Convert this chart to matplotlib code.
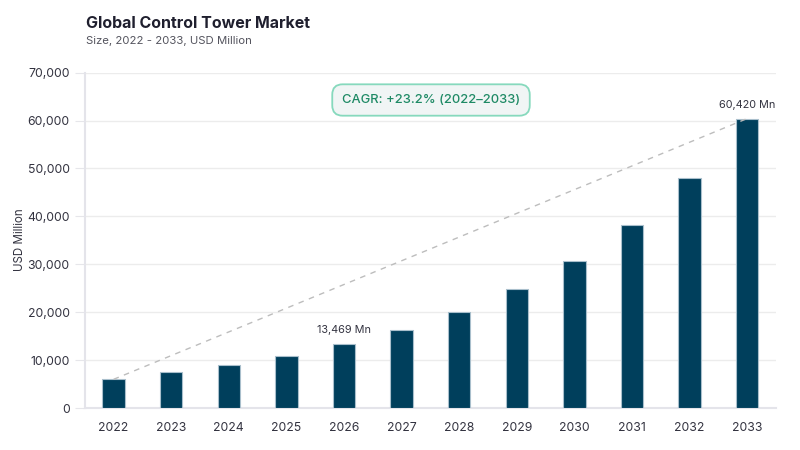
import matplotlib
matplotlib.use("Agg")
import matplotlib.pyplot as plt

years = ["2022", "2023", "2024", "2025", "2026", "2027", "2028", "2029", "2030", "2031", "2032", "2033"]
values = [6040, 7560, 9100, 10970, 13469, 16300, 20100, 24800, 30800, 38300, 48000, 60420]
yticks = [0, 10000, 20000, 30000, 40000, 50000, 60000, 70000]
labeled = {4: "13,469 Mn", 11: "60,420 Mn"}
title = "Global Control Tower Market"
subtitle = "Size, 2022 - 2033, USD Million"
cagr_text = "CAGR: +23.2% (2022\u20132033)"

plt.rcParams['font.family'] = ['Inter', 'DejaVu Sans']

fig = plt.figure(figsize=(8, 4.5), dpi=100)
ax = fig.add_axes([0.106, 0.0927, 0.864, 0.746])

x = list(range(len(years)))
ax.bar(x, values, width=0.39, color="#003f5c", edgecolor="#a9bfcc", linewidth=0.8, zorder=3)
ax.plot([x[0], x[-1]], [values[0], values[-1]], linestyle=(0, (4, 4)), color="#bdbdbd", linewidth=1.0, zorder=4)

for i, lab in labeled.items():
    ax.annotate(lab, (x[i], values[i]), xytext=(0, 6), textcoords="offset points",
                ha="center", va="bottom", fontsize=7.8, color="#333340")

ax.set_xlim(-0.5, len(years) - 0.5)
ax.set_ylim(0, 70000)
ax.set_yticks(yticks)
ax.set_yticklabels([f"{v:,}" for v in yticks])
ax.set_xticks(x)
ax.set_xticklabels(years)
ax.tick_params(axis="y", length=7, color="#e6e6ea", labelsize=8.8, labelcolor="#333340", pad=4)
ax.tick_params(axis="x", length=0, labelsize=8.8, labelcolor="#333340", pad=10)
ax.grid(axis="y", color="#ececec", linewidth=1.0, zorder=0)
ax.set_axisbelow(True)
for s in ["top", "right"]:
    ax.spines[s].set_visible(False)
ax.spines["left"].set_color("#e4e4ea")
ax.spines["left"].set_linewidth(1.5)
ax.spines["bottom"].set_color("#e4e4ea")
ax.spines["bottom"].set_linewidth(1.5)

fig.text(20 / 800, 1 - 240 / 450, "USD Million", rotation=90, fontsize=8.3, color="#333340",
         ha="center", va="center")
fig.text(0.107, 1 - 23 / 450, title, fontsize=11.5, fontweight="bold", color="#1f1f2e", ha="left", va="center")
fig.text(0.107, 1 - 41 / 450, subtitle, fontsize=8.2, color="#55555f", ha="left", va="center")

fig.text(431 / 800, 1 - 100 / 450, cagr_text, fontsize=9.3, fontweight="medium", color="#1e8a65",
         ha="center", va="center",
         bbox=dict(boxstyle="round,pad=0.75,rounding_size=0.8", facecolor="#f0f5f5", edgecolor="#86d9bd", linewidth=1.3))

fig.savefig("out.png", dpi=100, facecolor="white")
